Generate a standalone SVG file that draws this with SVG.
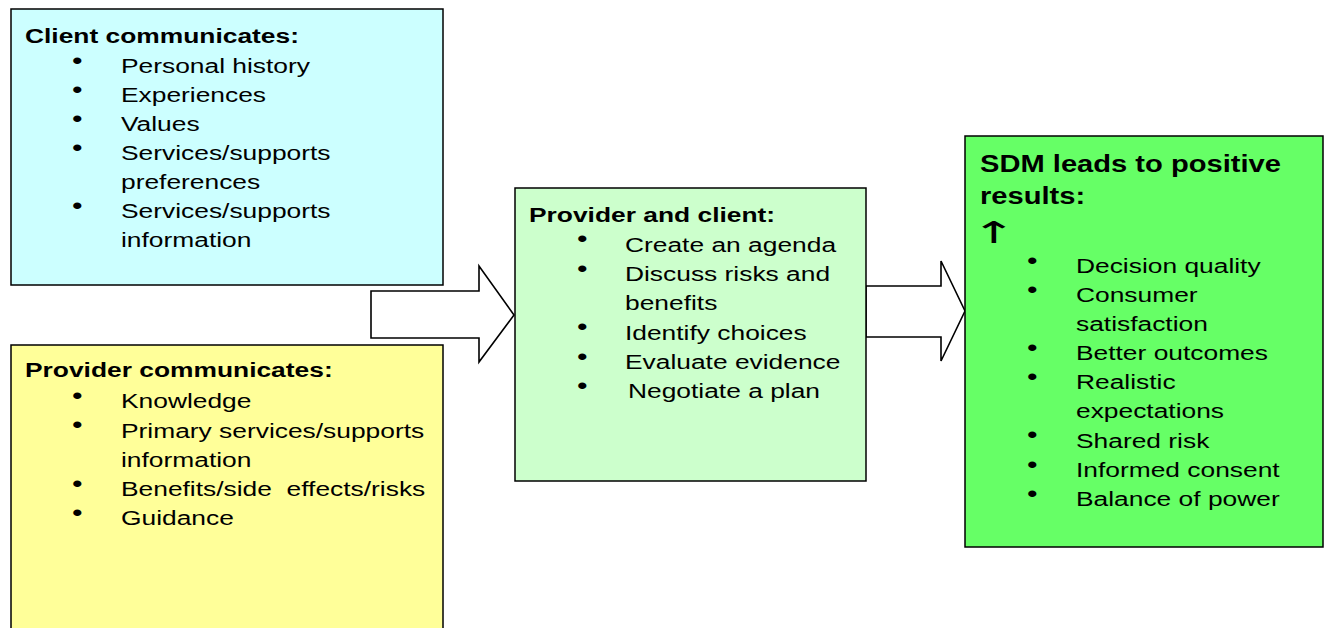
<svg xmlns="http://www.w3.org/2000/svg" width="1324" height="628" viewBox="0 0 1324 628">
<style>
text{font-family:"Liberation Sans",Arial,sans-serif;fill:#000;font-size:21px}
.h{font-weight:bold}
.s{font-size:24.5px;font-weight:bold}
.b{font-size:24px}
.box{stroke:#000;stroke-width:1.5}
.arr{fill:#fff;stroke:#000;stroke-width:1.6;stroke-linejoin:miter}
</style>
<g id="connectors">
<polygon class="arr" points="371,291 479,291 479,266 514,315 479,362 479,338 371,338"/>
<polygon class="arr" points="866,286 941,286 941,261 965,311 941,361 941,337 866,337"/>
</g>
<g id="client">
<rect class="box" x="11" y="9" width="432" height="276" fill="#CCFFFF"/>
<text class="h" transform="translate(25 42.5) scale(1.256 1)">Client communicates:</text>
<text transform="translate(72 73) scale(1.256 1)"><tspan class="b" dy="-4.5">•</tspan><tspan x="39" dy="4.5">Personal history</tspan></text>
<text transform="translate(72 102) scale(1.256 1)"><tspan class="b" dy="-4.5">•</tspan><tspan x="39" dy="4.5">Experiences</tspan></text>
<text transform="translate(72 131) scale(1.256 1)"><tspan class="b" dy="-4.5">•</tspan><tspan x="39" dy="4.5">Values</tspan></text>
<text transform="translate(72 160) scale(1.256 1)"><tspan class="b" dy="-4.5">•</tspan><tspan x="39" dy="4.5">Services/supports</tspan></text>
<text transform="translate(121 189) scale(1.256 1)">preferences</text>
<text transform="translate(72 218) scale(1.256 1)"><tspan class="b" dy="-4.5">•</tspan><tspan x="39" dy="4.5">Services/supports</tspan></text>
<text transform="translate(121 247) scale(1.256 1)">information</text>
</g>
<g id="provider">
<rect class="box" x="11" y="345" width="432" height="300" fill="#FFFF99"/>
<text class="h" transform="translate(25 377) scale(1.256 1)">Provider communicates:</text>
<text transform="translate(72 408) scale(1.256 1)"><tspan class="b" dy="-4.5">•</tspan><tspan x="39" dy="4.5">Knowledge</tspan></text>
<text transform="translate(72 437.5) scale(1.256 1)"><tspan class="b" dy="-4.5">•</tspan><tspan x="39" dy="4.5">Primary services/supports</tspan></text>
<text transform="translate(121 466.5) scale(1.256 1)">information</text>
<text transform="translate(72 496) scale(1.256 1)" style="white-space:pre"><tspan class="b" dy="-4.5">•</tspan><tspan x="39" dy="4.5">Benefits/side  effects/risks</tspan></text>
<text transform="translate(72 525) scale(1.256 1)"><tspan class="b" dy="-4.5">•</tspan><tspan x="39" dy="4.5">Guidance</tspan></text>
</g>
<g id="both">
<rect class="box" x="515" y="188" width="351" height="293" fill="#CCFFCC"/>
<text class="h" transform="translate(529 221.5) scale(1.256 1)">Provider and client:</text>
<text transform="translate(577 251.5) scale(1.256 1)"><tspan class="b" dy="-4.5">•</tspan><tspan x="38.2" dy="4.5">Create an agenda</tspan></text>
<text transform="translate(577 281) scale(1.256 1)"><tspan class="b" dy="-4.5">•</tspan><tspan x="38.2" dy="4.5">Discuss risks and</tspan></text>
<text transform="translate(625 310) scale(1.256 1)">benefits</text>
<text transform="translate(577 339.5) scale(1.256 1)"><tspan class="b" dy="-4.5">•</tspan><tspan x="38.2" dy="4.5">Identify choices</tspan></text>
<text transform="translate(577 369) scale(1.256 1)"><tspan class="b" dy="-4.5">•</tspan><tspan x="38.2" dy="4.5">Evaluate evidence</tspan></text>
<text transform="translate(577 398) scale(1.256 1)"><tspan class="b" dy="-4.5">•</tspan><tspan x="40.6" dy="4.5">Negotiate a plan</tspan></text>
</g>
<g id="results">
<rect class="box" x="965" y="136" width="358" height="411" fill="#66FF66"/>
<text class="s" transform="translate(980 171.5) scale(1.189 1)">SDM leads to positive</text>
<text class="s" transform="translate(980 203.5) scale(1.189 1)">results:</text>
<text transform="translate(971 243) scale(1.8 1)" style="font-family:'DejaVu Sans',sans-serif;font-size:30px">↑</text>
<text transform="translate(1027 273) scale(1.256 1)"><tspan class="b" dy="-4.5">•</tspan><tspan x="39" dy="4.5">Decision quality</tspan></text>
<text transform="translate(1027 302) scale(1.256 1)"><tspan class="b" dy="-4.5">•</tspan><tspan x="39" dy="4.5">Consumer</tspan></text>
<text transform="translate(1076 331) scale(1.256 1)">satisfaction</text>
<text transform="translate(1027 360) scale(1.256 1)"><tspan class="b" dy="-4.5">•</tspan><tspan x="39" dy="4.5">Better outcomes</tspan></text>
<text transform="translate(1027 389) scale(1.256 1)"><tspan class="b" dy="-4.5">•</tspan><tspan x="39" dy="4.5">Realistic</tspan></text>
<text transform="translate(1076 418) scale(1.256 1)">expectations</text>
<text transform="translate(1027 447.5) scale(1.256 1)"><tspan class="b" dy="-4.5">•</tspan><tspan x="39" dy="4.5">Shared risk</tspan></text>
<text transform="translate(1027 477) scale(1.256 1)"><tspan class="b" dy="-4.5">•</tspan><tspan x="39" dy="4.5">Informed consent</tspan></text>
<text transform="translate(1027 506) scale(1.256 1)"><tspan class="b" dy="-4.5">•</tspan><tspan x="39" dy="4.5">Balance of power</tspan></text>
</g>
</svg>
